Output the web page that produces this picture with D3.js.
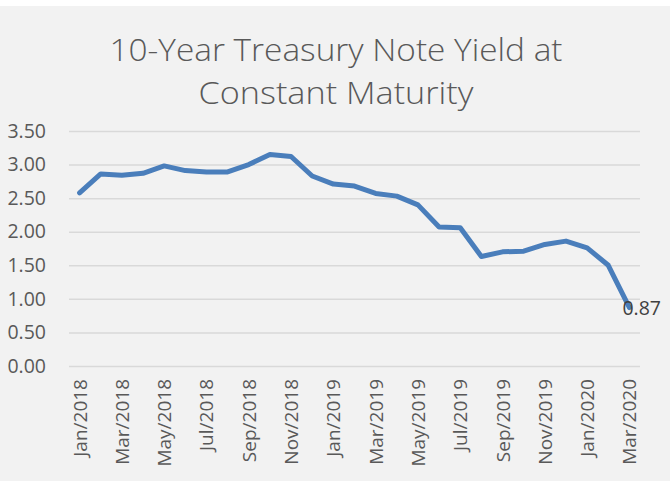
<!DOCTYPE html>
<html>
<head>
<meta charset="utf-8">
<script src="https://cdn.jsdelivr.net/npm/d3@7"></script>
<style>
  html, body { margin: 0; padding: 0; background: #ffffff; }
  svg { display: block; font-family: "Open Sans", "Noto Sans", sans-serif; }
</style>
</head>
<body>
<svg id="chart"></svg>
<script>
const months = ['Jan/2018', 'Feb/2018', 'Mar/2018', 'Apr/2018', 'May/2018', 'Jun/2018',
    'Jul/2018', 'Aug/2018', 'Sep/2018', 'Oct/2018', 'Nov/2018', 'Dec/2018',
    'Jan/2019', 'Feb/2019', 'Mar/2019', 'Apr/2019', 'May/2019', 'Jun/2019',
    'Jul/2019', 'Aug/2019', 'Sep/2019', 'Oct/2019', 'Nov/2019', 'Dec/2019',
    'Jan/2020', 'Feb/2020', 'Mar/2020'];
const yields = [2.58, 2.86, 2.84, 2.87, 2.98, 2.91, 2.89, 2.89, 3.00, 3.15, 3.12, 2.83,
    2.71, 2.68, 2.57, 2.53, 2.40, 2.07, 2.06, 1.63, 1.70, 1.71, 1.81, 1.86,
    1.76, 1.50, 0.87];
const yTicks = [0, 0.5, 1, 1.5, 2, 2.5, 3, 3.5];
const titleLines = ['10-Year Treasury Note Yield at', 'Constant Maturity'];

const width = 670;
const height = 481;
const plotLeft = 69;
const plotRight = 640;
const plotTop = 131;
const plotBottom = 366;
const textColor = '#595959';

const svg = d3.select('#chart')
    .attr('width', width)
    .attr('height', height);

// chart area background, a thin white strip stays on top
svg.append('rect')
    .attr('x', 0)
    .attr('y', 6)
    .attr('width', width)
    .attr('height', height - 6)
    .attr('fill', '#f2f2f2');

const xScale = d3.scaleBand()
    .domain(months)
    .range([plotLeft, plotRight])
    .padding(0);

const yScale = d3.scaleLinear()
    .domain([0, 3.5])
    .range([plotBottom, plotTop]);

// title
svg.append('g')
    .selectAll('text')
    .data(titleLines)
    .enter()
    .append('text')
    .attr('x', 336)
    .attr('y', (d, i) => 61 + i * 43)
    .attr('text-anchor', 'middle')
    .attr('fill', textColor)
    .attr('font-size', 31)
    .attr('font-weight', 300)
    .attr('textLength', (d, i) => i === 0 ? 453 : 275)
    .attr('lengthAdjust', 'spacingAndGlyphs')
    .text(d => d);

// y axis: gridlines and labels
const yAxis = d3.axisLeft(yScale)
    .tickValues(yTicks)
    .tickSize(-(plotRight - plotLeft))
    .tickPadding(23)
    .tickFormat(d3.format('.2f'));

const yAxisG = svg.append('g')
    .attr('transform', 'translate(' + plotLeft + ',0)')
    .call(yAxis);

yAxisG.select('.domain').remove();
yAxisG.selectAll('.tick line')
    .attr('stroke', '#d9d9d9')
    .attr('stroke-width', 1.5);
yAxisG.selectAll('.tick text')
    .attr('fill', textColor)
    .attr('font-size', 19.5)
    .attr('font-family', '"Open Sans", sans-serif');

// x axis: every second month, rotated
const xAxis = d3.axisBottom(xScale)
    .tickValues(months.filter((d, i) => i % 2 === 0))
    .tickSize(0)
    .tickPadding(0);

const xAxisG = svg.append('g')
    .attr('transform', 'translate(0,' + plotBottom + ')')
    .call(xAxis);

xAxisG.select('.domain').remove();
xAxisG.selectAll('.tick text')
    .attr('fill', textColor)
    .attr('font-size', 19)
    .attr('font-family', '"Open Sans", sans-serif')
    .attr('text-anchor', 'end')
    .attr('dy', null)
    .attr('y', 0)
    .attr('transform', 'translate(7,13) rotate(-90)');

// the line
const line = d3.line()
    .x((d, i) => xScale(months[i]) + xScale.bandwidth() / 2)
    .y(d => yScale(d));

svg.append('path')
    .datum(yields)
    .attr('d', line)
    .attr('fill', 'none')
    .attr('stroke', '#4a7ebb')
    .attr('stroke-width', 5)
    .attr('stroke-linejoin', 'round')
    .attr('stroke-linecap', 'round');

// label for the last value
const lastIndex = yields.length - 1;
svg.append('text')
    .attr('x', xScale(months[lastIndex]) + xScale.bandwidth() / 2 - 7)
    .attr('y', yScale(yields[lastIndex]) + 7)
    .attr('fill', '#404040')
    .attr('font-size', 19.5)
    .text(yields[lastIndex].toFixed(2));
</script>
</body>
</html>
